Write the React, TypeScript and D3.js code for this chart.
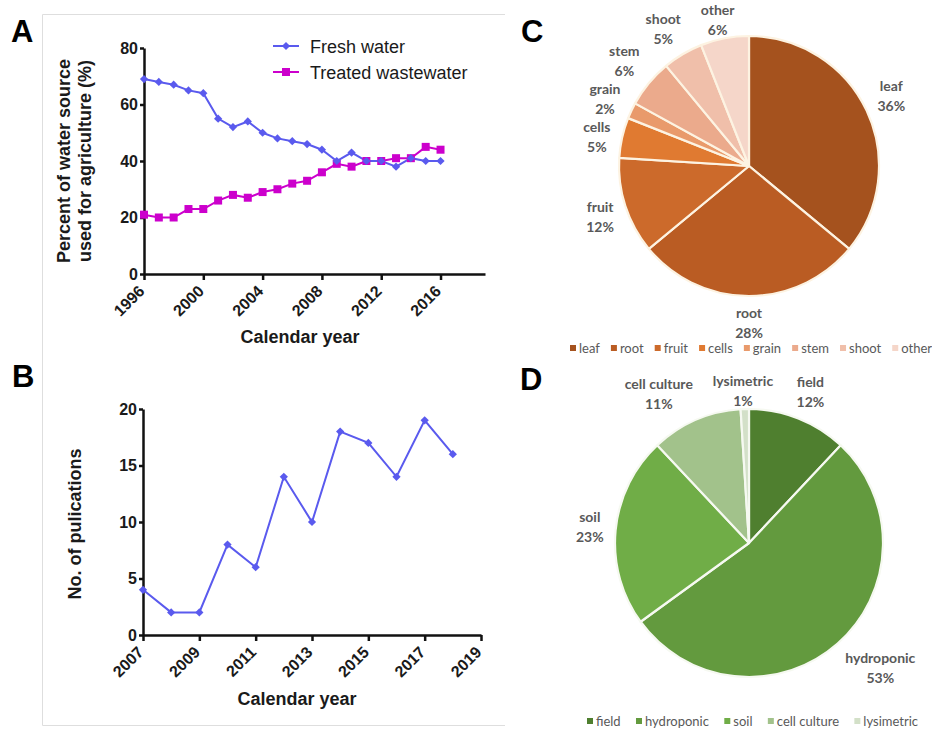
import { useEffect, useRef } from 'react';
import * as d3 from 'd3';

// Panel A: water sources used for agriculture
const yearsA = [1996, 1997, 1998, 1999, 2000, 2001, 2002, 2003, 2004, 2005, 2006, 2007, 2008, 2009, 2010, 2011, 2012, 2013, 2014, 2015, 2016];
const freshWater = [69, 68, 67, 65, 64, 55, 52, 54, 50, 48, 47, 46, 44, 40, 43, 40, 40, 38, 41, 40, 40];
const treatedWastewater = [21, 20, 20, 23, 23, 26, 28, 27, 29, 30, 32, 33, 36, 39, 38, 40, 40, 41, 41, 45, 44];
const yearTicksA = [1996, 2000, 2004, 2008, 2012, 2016];
const percentTicksA = [0, 20, 40, 60, 80];

// Panel B: publications per year
const yearsB = [2007, 2008, 2009, 2010, 2011, 2012, 2013, 2014, 2015, 2016, 2017, 2018];
const publications = [4, 2, 2, 8, 6, 14, 10, 18, 17, 14, 19, 16];
const yearTicksB = [2007, 2009, 2011, 2013, 2015, 2017, 2019];
const countTicksB = [0, 5, 10, 15, 20];

// Panel C: plant organs
const organs = ['leaf', 'root', 'fruit', 'cells', 'grain', 'stem', 'shoot', 'other'];
const organShares = [36, 28, 12, 5, 2, 6, 5, 6];
const organColors = ['#A5521E', '#BA5C23', '#CC6A2B', '#E07A31', '#E99A6B', '#EBAA8C', '#F0BFAA', '#F5D6C9'];

// Panel D: growing systems
const systems = ['field', 'hydroponic', 'soil', 'cell culture', 'lysimetric'];
const systemShares = [12, 53, 23, 11, 1];
const systemColors = ['#4F7F2F', '#639A3E', '#70AD47', '#A2C28B', '#D3E0C8'];

const BLUE = '#5A5AEE';
const MAGENTA = '#CC00CC';
const FONT_AB = '"Liberation Sans", Arial, sans-serif';
const FONT_PIE = 'Lato, "Open Sans", sans-serif';
const PIE_TEXT = '#595959';

type Sel = d3.Selection<SVGGElement, unknown, null, undefined>;

function styleAxis(g: Sel) {
  g.attr('font-size', null).attr('font-family', null);
  g.select('.domain').attr('stroke', '#111').attr('stroke-width', 2.5);
  g.selectAll('.tick line').attr('stroke', '#111').attr('stroke-width', 2.5);
  g.selectAll('.tick text')
    .attr('fill', '#1a1a1a')
    .style('font-family', FONT_AB)
    .style('font-size', '16px')
    .style('font-weight', 'bold');
}

function rotateTicks(g: Sel) {
  g.selectAll('.tick text')
    .attr('transform', 'rotate(-45)')
    .attr('text-anchor', 'end')
    .attr('x', -12)
    .attr('y', 8)
    .attr('dy', '0.35em');
}

function axisTitle(g: Sel, text: string, x: number, y: number, rotate = false) {
  g.append('text')
    .attr('transform', rotate ? `translate(${x},${y}) rotate(-90)` : `translate(${x},${y})`)
    .attr('text-anchor', 'middle')
    .attr('fill', '#1a1a1a')
    .style('font-family', FONT_AB)
    .style('font-size', '18px')
    .style('font-weight', 'bold')
    .text(text);
}

function diamondPath() {
  return d3.symbol(d3.symbolSquare, 34)()!;
}

function drawPanelA(root: Sel) {
  const g = root.append('g');
  const x = d3.scaleLinear().domain([1996, 2019]).range([144, 485]);
  const y = d3.scaleLinear().domain([0, 80]).range([274, 48]);

  const gx = g.append('g')
    .attr('transform', `translate(0,${y(0)})`)
    .call(d3.axisBottom(x).tickValues(yearTicksA).tickSize(6).tickSizeOuter(0).tickFormat(d3.format('d')));
  styleAxis(gx);
  rotateTicks(gx);

  const gy = g.append('g')
    .attr('transform', `translate(${x(1996)},0)`)
    .call(d3.axisLeft(y).tickValues(percentTicksA).tickSize(4).tickPadding(2).tickSizeOuter(0));
  styleAxis(gy);

  const line = d3.line<number>()
    .x((_, i) => x(yearsA[i]))
    .y(d => y(d));

  g.append('path').attr('d', line(treatedWastewater)!).attr('fill', 'none').attr('stroke', MAGENTA).attr('stroke-width', 2);
  g.append('path').attr('d', line(freshWater)!).attr('fill', 'none').attr('stroke', BLUE).attr('stroke-width', 2);

  g.selectAll('.tw').data(treatedWastewater).join('rect')
    .attr('x', (_, i) => x(yearsA[i]) - 4)
    .attr('y', d => y(d) - 4)
    .attr('width', 8).attr('height', 8)
    .attr('fill', MAGENTA);

  g.selectAll('.fw').data(freshWater).join('path')
    .attr('transform', (d, i) => `translate(${x(yearsA[i])},${y(d)}) rotate(45)`)
    .attr('d', diamondPath())
    .attr('fill', BLUE);

  axisTitle(g, 'Percent of water source', 70, 161, true);
  axisTitle(g, 'used for agriculture (%)', 91, 161, true);
  axisTitle(g, 'Calendar year', 300, 343);

  // legend
  const legend = [
    { name: 'Fresh water', color: BLUE, marker: 'diamond', y: 46 },
    { name: 'Treated wastewater', color: MAGENTA, marker: 'square', y: 72 },
  ];
  legend.forEach(l => {
    g.append('line').attr('x1', 273).attr('x2', 299).attr('y1', l.y).attr('y2', l.y)
      .attr('stroke', l.color).attr('stroke-width', 2);
    if (l.marker === 'diamond') {
      g.append('path').attr('transform', `translate(286,${l.y}) rotate(45)`).attr('d', diamondPath()).attr('fill', l.color);
    } else {
      g.append('rect').attr('x', 282).attr('y', l.y - 4).attr('width', 8).attr('height', 8).attr('fill', l.color);
    }
    g.append('text').attr('x', 310).attr('y', l.y + 7)
      .attr('fill', '#1a1a1a')
      .style('font-family', FONT_AB).style('font-size', '18px')
      .text(l.name);
  });
}

function drawPanelB(root: Sel) {
  const g = root.append('g');
  const x = d3.scaleLinear().domain([2007, 2019]).range([143, 481]);
  const y = d3.scaleLinear().domain([0, 20]).range([635, 409]);

  const gx = g.append('g')
    .attr('transform', `translate(0,${y(0)})`)
    .call(d3.axisBottom(x).tickValues(yearTicksB).tickSize(6).tickSizeOuter(0).tickFormat(d3.format('d')));
  styleAxis(gx);
  rotateTicks(gx);

  const gy = g.append('g')
    .attr('transform', `translate(${x(2007)},0)`)
    .call(d3.axisLeft(y).tickValues(countTicksB).tickSize(4).tickPadding(2).tickSizeOuter(0));
  styleAxis(gy);

  const line = d3.line<number>()
    .x((_, i) => x(yearsB[i]))
    .y(d => y(d));

  g.append('path').attr('d', line(publications)!).attr('fill', 'none').attr('stroke', BLUE).attr('stroke-width', 2);
  g.selectAll('.pub').data(publications).join('path')
    .attr('transform', (d, i) => `translate(${x(yearsB[i])},${y(d)}) rotate(45)`)
    .attr('d', diamondPath())
    .attr('fill', BLUE);

  axisTitle(g, 'No. of pulications', 81, 524, true);
  axisTitle(g, 'Calendar year', 297, 705);
}

function drawPie(
  root: Sel,
  names: string[],
  shares: number[],
  colors: string[],
  cx: number,
  cy: number,
  r: number,
  pad: number,
  sepColor: string,
  areaTop: number,
) {
  const g = root.append('g').attr('transform', `translate(${cx},${cy})`);
  const pie = d3.pie<number>().sort(null).value(d => d);
  const arcs = pie(shares);
  const arc = d3.arc<d3.PieArcDatum<number>>().innerRadius(0).outerRadius(r);

  g.selectAll('path').data(arcs).join('path')
    .attr('d', arc)
    .attr('fill', (_, i) => colors[i])
    .attr('stroke', sepColor)
    .attr('stroke-width', 2.2)
    .attr('stroke-linejoin', 'round');

  const clamp = (v: number) => Math.max(-1, Math.min(1, v * 1.5));
  const blockH = 38; // two lines incl. ascent/descent

  // outside-end labels
  const boxes = arcs.map((a, i) => {
    const ang = (a.startAngle + a.endAngle) / 2;
    const t = g.append('text')
      .attr('text-anchor', 'middle')
      .attr('fill', PIE_TEXT)
      .style('font-family', FONT_PIE)
      .style('font-size', '14px')
      .style('font-weight', 'bold');
    const t1 = t.append('tspan').text(names[i]);
    const t2 = t.append('tspan').text(`${shares[i]}%`);
    const w = Math.max(t1.node()!.getComputedTextLength(), t2.node()!.getComputedTextLength());
    const h = 30;
    const s = Math.sin(ang);
    const c = Math.cos(ang);
    const lx = (r + pad) * s + (clamp(s) * w) / 2;
    let ly = -(r + pad) * c - (clamp(c) * h) / 2;
    // keep inside the chart area
    ly = Math.max(ly, areaTop - cy + h / 2);
    return { t1, t2, x: lx, y: ly, w, s };
  });

  // push apart neighbours on the left side that collide
  for (let i = boxes.length - 2; i >= 0; i--) {
    const a = boxes[i];
    const b = boxes[i + 1];
    if (a.x >= 0) continue;
    const side = Math.abs(a.s) > 0.7;
    const minDx = (a.w + b.w) / 2 + (side ? 4 : 20);
    const overlapX = Math.abs(a.x - b.x) < minDx;
    const overlapY = Math.abs(a.y - b.y) < blockH;
    if (!overlapX || !overlapY) continue;
    if (side) {
      a.y = b.y + blockH;
    } else {
      a.x = b.x - minDx;
    }
  }

  boxes.forEach(b => {
    b.t1.attr('x', b.x).attr('y', b.y - 5);
    b.t2.attr('x', b.x).attr('y', b.y + 15);
  });
}

function drawLegend(root: Sel, names: string[], colors: string[], cy: number, xStart: number, xEnd: number) {
  const g = root.append('g');
  const sq = 6;
  const sqGap = 3;
  const items = names.map(n => {
    const t = g.append('text')
      .attr('fill', PIE_TEXT)
      .style('font-family', FONT_PIE)
      .style('font-size', '13px')
      .text(n);
    return { t, w: t.node()!.getComputedTextLength() };
  });
  const total = d3.sum(items, it => it.w + sq + sqGap);
  const gap = (xEnd - xStart - total) / (items.length - 1);
  let x = xStart;
  items.forEach((it, i) => {
    g.append('rect')
      .attr('x', x).attr('y', cy - sq / 2)
      .attr('width', sq).attr('height', sq)
      .attr('fill', colors[i]);
    it.t.attr('x', x + sq + sqGap).attr('y', cy + 4.5);
    x += sq + sqGap + it.w + gap;
  });
}

function panelLetter(root: Sel, letter: string, x: number, y: number) {
  root.append('text')
    .attr('x', x).attr('y', y)
    .attr('fill', '#000')
    .style('font-family', FONT_AB)
    .style('font-size', '31px')
    .style('font-weight', 'bold')
    .text(letter);
}

const App = () => {
  const svgRef = useRef<SVGSVGElement | null>(null);

  useEffect(() => {
    const svg = d3.select(svgRef.current);
    svg.selectAll('*').remove();
    const root = svg.append('g') as unknown as Sel;

    // light frame around the left panels
    root.append('path')
      .attr('d', 'M505,14.5 H42.5 V725.5 H505')
      .attr('fill', 'none')
      .attr('stroke', '#dedede')
      .attr('stroke-width', 1);

    drawPanelA(root);
    drawPanelB(root);

    drawPie(root, organs, organShares, organColors, 749, 166, 130, 12, '#FDF3E2', 5);
    drawLegend(root, organs, organColors, 348, 570, 932);

    drawPie(root, systems, systemShares, systemColors, 749, 543, 134, 12, '#F6F9F1', 376);
    drawLegend(root, systems, systemColors, 721, 587, 918);

    panelLetter(root, 'A', 11, 42);
    panelLetter(root, 'B', 12, 387);
    panelLetter(root, 'C', 521, 42);
    panelLetter(root, 'D', 520, 390);
  }, []);

  return (
    <svg
      ref={svgRef}
      width={932}
      height={738}
      style={{ position: 'absolute', left: 0, top: 0, background: '#fff' }}
    />
  );
};

export default App;
